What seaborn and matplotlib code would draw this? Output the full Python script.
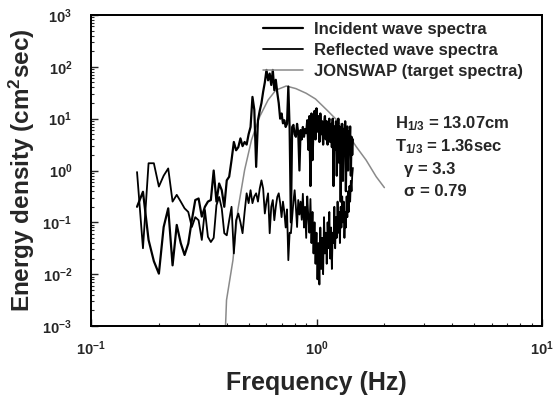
import numpy as np
import pandas as pd
import matplotlib
matplotlib.use("Agg")
import matplotlib.pyplot as plt
from matplotlib.patches import Rectangle
import seaborn as sns

# ---------------- data ----------------
freq = [0.16, 0.17, 0.18, 0.19, 0.20, 0.21, 0.22, 0.23, 0.24, 0.25,
        0.26, 0.27, 0.28, 0.29, 0.30, 0.31, 0.32, 0.33, 0.34, 0.35,
        0.36, 0.37, 0.38, 0.39, 0.40, 0.41, 0.42, 0.43, 0.44, 0.45,
        0.46, 0.47, 0.48, 0.49, 0.50, 0.51, 0.52, 0.53, 0.54, 0.55,
        0.56, 0.57, 0.58, 0.59, 0.60, 0.61, 0.62, 0.63, 0.64, 0.65,
        0.66, 0.67, 0.68, 0.69, 0.70, 0.71, 0.72, 0.73, 0.74, 0.75,
        0.76, 0.77, 0.78, 0.79, 0.80, 0.81, 0.82, 0.83, 0.84, 0.85,
        0.86, 0.87, 0.88, 0.89, 0.90, 0.91, 0.92, 0.93, 0.94, 0.95,
        0.96, 0.97, 0.98, 0.99, 1.00, 1.01, 1.02, 1.03, 1.04, 1.05,
        1.06, 1.07, 1.08, 1.09, 1.10, 1.11, 1.12, 1.13, 1.14, 1.15,
        1.16, 1.17, 1.18, 1.19, 1.20, 1.21, 1.22, 1.23, 1.24, 1.25,
        1.26, 1.27, 1.28, 1.29, 1.30, 1.31, 1.32, 1.33, 1.34, 1.35,
        1.36, 1.37, 1.38, 1.39, 1.40, 1.41, 1.42, 1.43, 1.44, 1.45]

# log10 of energy density (cm^2 sec)
incident_log10 = [-0.70, -0.41, -1.34, -1.75, -1.99, -1.09, -0.73, -1.83, -1.05, -1.40,
                  -1.63, -1.41, -0.96, -0.57, -0.54, -0.89, -0.70, -0.60, -0.57, 0.00,
                  -0.60, -0.25, -0.38, -0.70, -0.19, -0.12, 0.20, 0.55, 0.39, 0.45,
                  0.62, 0.47, 0.55, 0.50, 0.70, 0.84, 1.42, 1.17, 0.07, 0.97,
                  1.15, 1.30, 1.52, 1.70, 1.94, 1.74, 1.87, 1.65, 1.94, 1.55,
                  1.75, 1.50, 1.30, 1.00, 1.10, 0.91, 0.97, 0.84, 0.90, 1.62,
                  0.81, -1.00, 0.84, 0.88, 0.70, 0.65, 0.90, 0.72, 0.00, 0.78,
                  0.60, 0.84, 0.65, 0.80, 0.72, 0.97, 0.40, 1.05, -0.30, 1.10,
                  0.20, 0.85, 1.15, 0.60, 1.20, 0.75, 1.05, 0.55, 1.10, 0.70,
                  0.95, 0.50, 0.90, 1.05, 0.60, 0.95, 0.50, 0.85, 1.00, 0.55,
                  0.90, 0.45, 1.00, -0.30, 0.85, 0.40, 0.95, -0.10, 0.75, 1.00,
                  0.15, 0.85, -0.60, 0.60, 0.90, -0.20, 0.80, 0.30, 0.95, -0.40,
                  0.70, 0.85, 0.00, 0.75, 0.45, 0.85, -0.10, 0.65, 0.30, 0.60]

reflected_log10 = [-0.03, -1.50, 0.14, 0.14, -0.31, -0.10, 0.04, -0.60, -0.47, -0.60,
                   -0.73, -0.80, -1.09, -0.90, -0.96, -1.34, -0.76, -1.28, -1.38, -1.30,
                   -0.67, -0.51, -0.73, -1.21, -1.25, -0.96, -0.70, -1.60, -0.96, -0.83,
                   -1.00, -1.21, -0.80, -0.44, -0.63, -0.38, -0.63, -0.50, -0.44, -0.60,
                   -0.35, -0.19, -0.35, -0.83, -0.60, -0.44, -1.21, -0.70, -0.57, -0.96,
                   -0.70, -0.51, -0.44, -0.63, -0.90, -0.60, -0.80, -1.10, -0.75, -1.73,
                   -1.20, -1.21, -0.90, -0.60, -0.38, -0.70, -1.09, -0.57, -0.85, -0.60,
                   -0.95, -0.45, -1.10, -0.70, -1.30, -0.50, -0.90, -1.20, -0.55, -1.40,
                   -0.80, -1.60, -1.00, -1.80, -1.20, -2.10, -1.40, -2.20, -1.10, -1.90,
                   -1.30, -2.00, -0.90, -1.60, -1.20, -1.80, -1.00, -1.50, -0.80, -1.70,
                   -1.10, -1.90, -1.20, -1.40, -0.70, -1.50, -0.90, -1.30, -0.60, -1.20,
                   -0.80, -1.40, -0.70, -1.10, -0.50, -1.00, -0.60, -1.30, -0.80, -1.10,
                   -0.50, -0.90, -0.40, -0.80, -0.30, -0.60, -0.20, -0.40, -0.10, 0.05]

jonswap_freq = [0.395, 0.399, 0.426, 0.448, 0.48, 0.515, 0.56, 0.61, 0.66, 0.734,
                0.81, 0.90, 0.99, 1.11, 1.22, 1.35, 1.50, 1.66, 1.84, 2.00]
jonswap_log10 = [-3.00, -2.50, -1.73, -0.76, 0.01, 0.59, 1.04, 1.36, 1.55, 1.63,
                 1.58, 1.49, 1.38, 1.17, 0.99, 0.76, 0.46, 0.20, -0.12, -0.33]

series_labels = ["Incident wave spectra", "Reflected wave spectra", "JONSWAP (target spectra)"]
param_texts = [r"$\mathbf{H_{1/3}}$ = 13.07cm", r"$\mathbf{T_{1/3}}$ = 1.36sec",
               "\u03b3 = 3.3", "\u03c3 = 0.79"]
x_ticks = [0.1, 1, 10]
x_ticklabels = [r"$\mathbf{10^{-1}}$", r"$\mathbf{10^{0}}$", r"$\mathbf{10^{1}}$"]
y_ticks = [1e-3, 1e-2, 1e-1, 1, 10, 100, 1000]
y_ticklabels = [r"$\mathbf{10^{-3}}$", r"$\mathbf{10^{-2}}$", r"$\mathbf{10^{-1}}$",
                r"$\mathbf{10^{0}}$", r"$\mathbf{10^{1}}$", r"$\mathbf{10^{2}}$",
                r"$\mathbf{10^{3}}$"]

# ---------------- build tables ----------------
df_inc = pd.DataFrame({"f": freq, "S": np.power(10.0, incident_log10)})
df_ref = pd.DataFrame({"f": freq, "S": np.power(10.0, reflected_log10)})
df_jon = pd.DataFrame({"f": jonswap_freq, "S": np.power(10.0, jonswap_log10)})

# ---------------- style ----------------
sns.set_style("ticks")
plt.rcParams["font.family"] = ["Liberation Sans", "DejaVu Sans"]
plt.rcParams["font.weight"] = "bold"
plt.rcParams["mathtext.fontset"] = "custom"
plt.rcParams["mathtext.rm"] = "Liberation Sans:bold"
plt.rcParams["mathtext.bf"] = "Liberation Sans:bold"
plt.rcParams["mathtext.it"] = "Liberation Sans:bold"

fig = plt.figure(figsize=(5.55, 3.98), dpi=100)
ax = fig.add_axes([91 / 555, 1 - 326 / 398, 451 / 555, 311 / 398])

sns.lineplot(data=df_jon, x="f", y="S", ax=ax, color="#8a8a8a", lw=1.1,
             label=series_labels[2], sort=False, zorder=2)
sns.lineplot(data=df_ref, x="f", y="S", ax=ax, color="black", lw=1.3,
             label=series_labels[1], sort=False, zorder=3)
sns.lineplot(data=df_inc, x="f", y="S", ax=ax, color="black", lw=1.6,
             label=series_labels[0], sort=False, zorder=4)

ax.set_xscale("log")
ax.set_yscale("log")
ax.set_xlim(0.1, 10)
ax.set_ylim(1e-3, 1e3)
ax.set_xticks(x_ticks)
ax.set_xticklabels(x_ticklabels)
ax.set_yticks(y_ticks)
ax.set_yticklabels(y_ticklabels)
ax.tick_params(which="major", direction="in", length=5, width=1, labelsize=10.5)
ax.tick_params(which="minor", direction="in", length=2.5, width=0.8)
ax.tick_params(axis="y", which="major", pad=13.5)
ax.tick_params(axis="x", which="major", pad=10)
for sp in ax.spines.values():
    sp.set_linewidth(1.3)
    sp.set_color("black")

# explicit frame around the plotting area
ax.add_patch(Rectangle((0, 0), 1, 1, transform=ax.transAxes, fill=False,
                       edgecolor="black", lw=1.3, clip_on=False, zorder=10))

ax.set_xlabel("Frequency (Hz)", fontsize=18, fontweight="bold", labelpad=9)
ax.set_ylabel(r"Energy density (cm$^{\mathbf{2}}$sec)", fontsize=17.5,
              fontweight="bold", labelpad=4)

handles, labels = ax.get_legend_handles_labels()
order = [labels.index(s) for s in series_labels]
leg = ax.legend([handles[i] for i in order], [labels[i] for i in order],
                loc="upper left", bbox_to_anchor=(0.381, 0.979), frameon=False,
                borderpad=0, borderaxespad=0, handlelength=2.4, handletextpad=0.7,
                labelspacing=0.38, prop={"family": "Liberation Sans",
                                         "weight": "bold", "size": 12})

ys = [0.650, 0.576, 0.502, 0.431]
xs = [0.673, 0.673, 0.695, 0.695]
for t, x, y in zip(param_texts, xs, ys):
    ax.text(x, y, t, transform=ax.transAxes, fontsize=12, fontweight="bold",
            va="center", ha="left")

fig.savefig("out.png", dpi=100)
